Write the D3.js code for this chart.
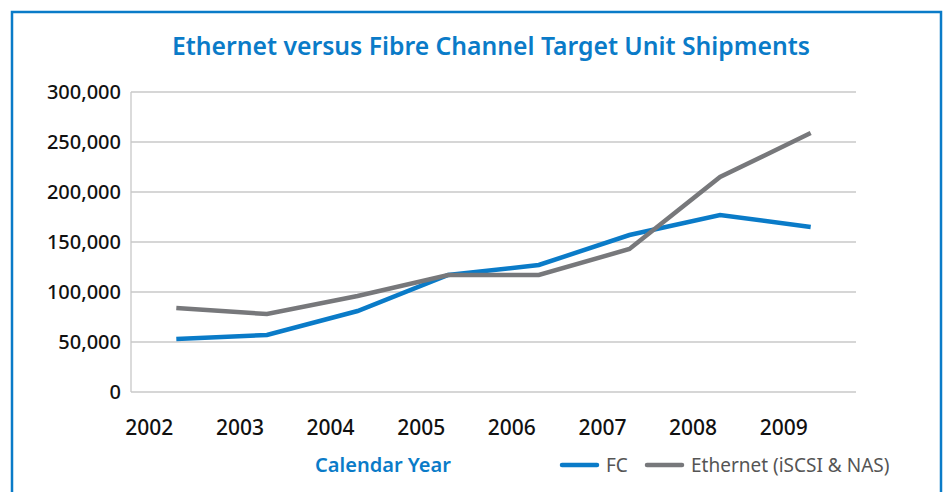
<!DOCTYPE html>
<html>
<head>
<meta charset="utf-8">
<script src="https://cdn.jsdelivr.net/npm/d3@7"></script>
<style>
  body { margin: 0; background: #fff; }
  svg text { font-family: "Noto Sans", "Open Sans", sans-serif; }
</style>
</head>
<body>
<div id="chart"></div>
<script>
// data
var years = ["2002", "2003", "2004", "2005", "2006", "2007", "2008", "2009"];
var fcUnits = [53000, 57000, 81000, 117000, 127000, 157000, 177000, 165000];
var ethUnits = [84000, 78000, 96000, 117000, 117000, 143000, 215000, 259000];
var yTicks = [0, 50000, 100000, 150000, 200000, 250000, 300000];

var svgWidth = 945;
var svgHeight = 492;

var margin = { top: 92, right: 89, bottom: 100, left: 131 };
var width = svgWidth - margin.left - margin.right;
var height = svgHeight - margin.top - margin.bottom;

var blue = "#0a7bc8";
var grey = "#77787b";

var svg = d3.select("#chart")
  .append("svg")
  .attr("width", svgWidth)
  .attr("height", svgHeight);

// outer frame (bottom edge runs off the picture)
svg.append("path")
  .attr("d", "M12,500 L12,12 L941,12 L941,500")
  .attr("fill", "none")
  .attr("stroke", blue)
  .attr("stroke-width", 2.5);

svg.append("text")
  .attr("x", 491)
  .attr("y", 55)
  .attr("text-anchor", "middle")
  .attr("textLength", 638)
  .attr("lengthAdjust", "spacingAndGlyphs")
  .style("font-size", "25px")
  .style("font-weight", "600")
  .style("fill", blue)
  .text("Ethernet versus Fibre Channel Target Unit Shipments");

var chartGroup = svg.append("g")
  .attr("transform", `translate(${margin.left}, ${margin.top})`);

var xScale = d3.scaleBand()
  .domain(years)
  .range([0, width]);

var yScale = d3.scaleLinear()
  .domain([0, 300000])
  .range([height, 0]);

// gridlines
chartGroup.append("g")
  .selectAll("line")
  .data(yTicks)
  .enter()
  .append("line")
  .attr("x1", 0)
  .attr("x2", width)
  .attr("y1", d => yScale(d))
  .attr("y2", d => yScale(d))
  .attr("stroke", "#c8c8c8")
  .attr("stroke-width", 1.3);

chartGroup.append("line")
  .attr("x1", 0).attr("x2", 0)
  .attr("y1", 0).attr("y2", height)
  .attr("stroke", "#c8c8c8")
  .attr("stroke-width", 1.3);

// y axis labels
var lftAxis = d3.axisLeft(yScale)
  .tickValues(yTicks)
  .tickSize(0)
  .tickPadding(10)
  .tickFormat(d3.format(","));

chartGroup.append("g")
  .call(lftAxis)
  .call(g => g.select(".domain").remove())
  .selectAll("text")
  .style("font-size", "20px")
  .style("font-weight", "500")
  .style("fill", "#111");

// x axis labels (sit a bit left of the points, as in the original)
var btmAxis = d3.axisBottom(xScale)
  .tickSize(0)
  .tickPadding(28);

chartGroup.append("g")
  .attr("transform", `translate(-27, ${height})`)
  .call(btmAxis)
  .call(g => g.select(".domain").remove())
  .selectAll("text")
  .style("font-size", "21px")
  .style("font-weight", "500")
  .style("fill", "#111");

var line = d3.line()
  .x((d, i) => xScale(years[i]) + xScale.bandwidth() / 2)
  .y(d => yScale(d));

chartGroup.append("path")
  .datum(fcUnits)
  .attr("d", line)
  .attr("fill", "none")
  .attr("stroke", blue)
  .attr("stroke-width", 4.5);

chartGroup.append("path")
  .datum(ethUnits)
  .attr("d", line)
  .attr("fill", "none")
  .attr("stroke", grey)
  .attr("stroke-width", 4.5);

// axis title
svg.append("text")
  .attr("x", 383)
  .attr("y", 472)
  .attr("text-anchor", "middle")
  .style("font-size", "20px")
  .style("font-weight", "600")
  .style("fill", blue)
  .text("Calendar Year");

// legend
var legendItems = [
  { name: "FC", color: blue, x: 562 },
  { name: "Ethernet (iSCSI & NAS)", color: grey, x: 647 }
];

var legend = svg.selectAll(".legend")
  .data(legendItems)
  .enter()
  .append("g")
  .attr("transform", d => `translate(${d.x}, 465)`);

legend.append("line")
  .attr("x1", 0).attr("x2", 35)
  .attr("y1", 0).attr("y2", 0)
  .attr("stroke", d => d.color)
  .attr("stroke-width", 4.5)
  .attr("stroke-linecap", "round");

legend.append("text")
  .attr("x", 44)
  .attr("y", 7)
  .style("font-size", "19px")
  .style("fill", "#555")
  .text(d => d.name);
</script>
</body>
</html>
